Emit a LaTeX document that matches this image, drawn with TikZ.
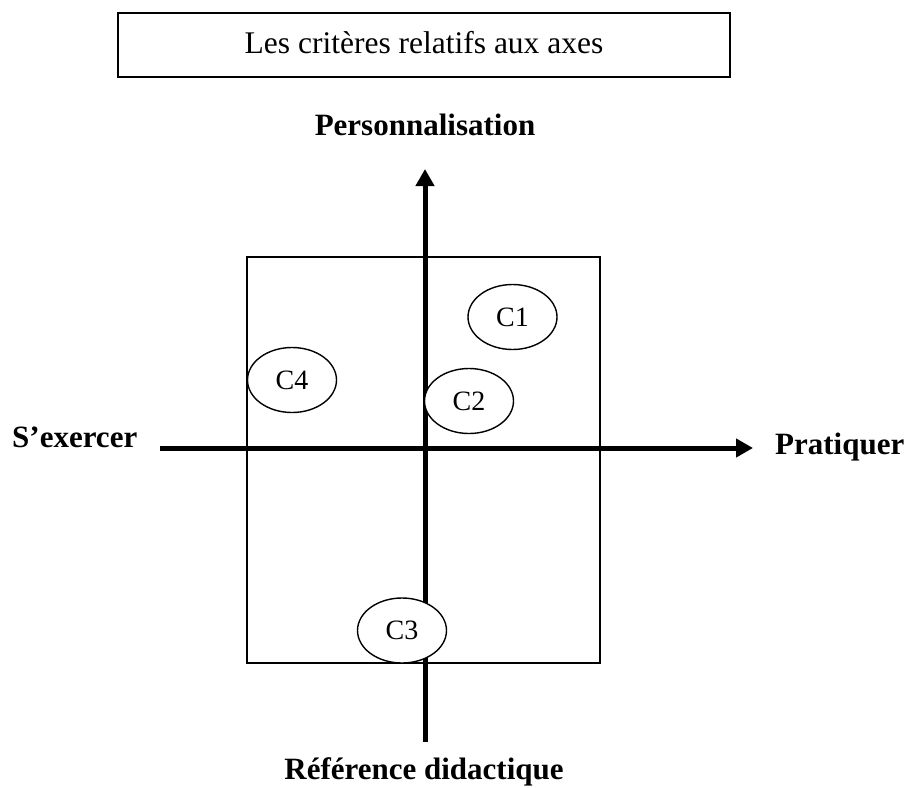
\documentclass[tikz,border=0pt]{standalone}
\usepackage{fontspec}
\setmainfont{Liberation Serif}
\usetikzlibrary{shapes.geometric,arrows.meta}
\tikzset{
  titlebox/.style={draw, line width=1.8pt, minimum width=612pt, minimum height=64pt, inner sep=0pt},
  axislabel/.style={font=\fontsize{31}{36}\selectfont\bfseries, inner sep=0pt},
  axisline/.style={line width=5pt, -{Triangle[length=17pt,width=18pt]}},
  frame/.style={draw, line width=1.4pt},
  crit/.style={ellipse, draw, fill=white, line width=1.4pt, minimum width=89pt, minimum height=65pt, inner sep=0pt, font=\fontsize{28}{32}\selectfont}
}
\begin{document}
\begin{tikzpicture}[x=1pt,y=-1pt]
\useasboundingbox (0,0) rectangle (909,787);
% title
\node[titlebox] (title) at (424,45) {};
\node[inner sep=0pt, anchor=base, font=\fontsize{31.5}{36}\selectfont] (titletext) at (424,53) {Les critères relatifs aux axes};
% frame
\node[frame, minimum width=353pt, minimum height=406pt, inner sep=0pt] (frame) at (423.5,460) {};
% axes
\coordinate (vbot) at (425,742);
\coordinate (vtop) at (425,169);
\coordinate (hleft) at (160,448);
\coordinate (hright) at (753,448);
\draw[axisline] (vbot) -- (vtop);
\draw[axisline] (hleft) -- (hright);
% labels
\node[axislabel, anchor=base] (perso) at (425,135) {Personnalisation};
\node[axislabel, anchor=base west] (exer) at (12,447) {S’exercer};
\node[axislabel, anchor=base west] (prat) at (775,454) {Pratiquer};
\node[axislabel, anchor=base] (ref) at (424,779) {Référence didactique};
% criteria
\node[crit] (c1) at (512.5,317) {C1};
\node[crit] (c2) at (469,401) {C2};
\node[crit] (c4) at (292,380) {C4};
\node[crit] (c3) at (402,630.5) {C3};
\end{tikzpicture}
\end{document}
